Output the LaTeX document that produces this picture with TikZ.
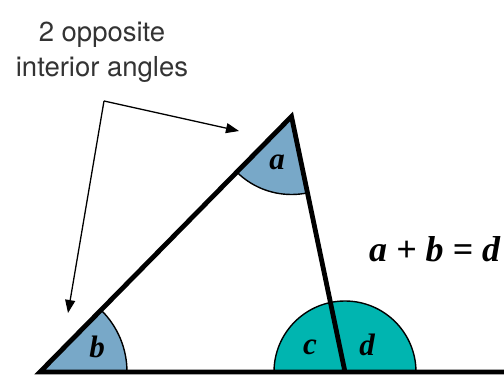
\documentclass[tikz,border=0pt]{standalone}
\usepackage{fontspec}
\setmainfont{Liberation Serif}
\newfontfamily\helvfont{TeX Gyre Heros}
\usetikzlibrary{arrows.meta,positioning,calc}
\definecolor{angblue}{HTML}{78A8C8}
\definecolor{angteal}{HTML}{00B5B0}
\definecolor{txtgray}{HTML}{333333}
\begin{document}
\begin{tikzpicture}[x=1pt,y=1pt]
        \tikzstyle{side}=[line width=4.8pt,line join=miter]
        \tikzstyle{arc}=[draw,line width=1.4pt]
        \tikzstyle{lbl}=[font=\fontsize{31}{36}\selectfont\bfseries\itshape,inner sep=0pt]
        \tikzstyle{ptr}=[line width=1.3pt,-{Triangle[length=13pt,width=10pt]}]
        \useasboundingbox (0,0) rectangle (504,378);
        \coordinate (B) at (40,6);
        \coordinate (A) at (291.5,261.5);
        \coordinate (C) at (345,6);
        \coordinate (R) at (510,6);
        % interior angles a and b
        \begin{scope}
          \clip (B) -- (A) -- (C) -- cycle;
          \filldraw[arc,fill=angblue] (B) circle (87);
          \filldraw[arc,fill=angblue] (A) circle (78);
        \end{scope}
        % exterior half disc c + d
        \begin{scope}
          \clip (0,6) rectangle (504,378);
          \filldraw[arc,fill=angteal] (C) circle (71);
        \end{scope}
        \draw[side] (C) -- (A) -- (B) -- (R);
        \node[lbl] (la) at (277,216) {a};
        \node[lbl] (lb) at (97,31) {b};
        \node[lbl] (lc) at (310,31) {c};
        \node[lbl] (ld) at (367,33) {d};
        \node[font=\fontsize{36}{40}\selectfont\bfseries\itshape,anchor=base west,inner sep=0pt] (eq) at (369,116) {a + b = d};
        % pointer text and arrows
        \node[font=\helvfont\fontsize{27.5}{35}\selectfont,text=txtgray,align=center] (txt) at (102,326) {2 opposite\\interior angles};
        \coordinate (elbow) at (104,277);
        \coordinate (ta) at (239,247);
        \coordinate (tb) at (68,65);
        \draw[ptr] (elbow) -- (ta);
        \draw[ptr] (elbow) -- (tb);
      \end{tikzpicture}
\end{document}
